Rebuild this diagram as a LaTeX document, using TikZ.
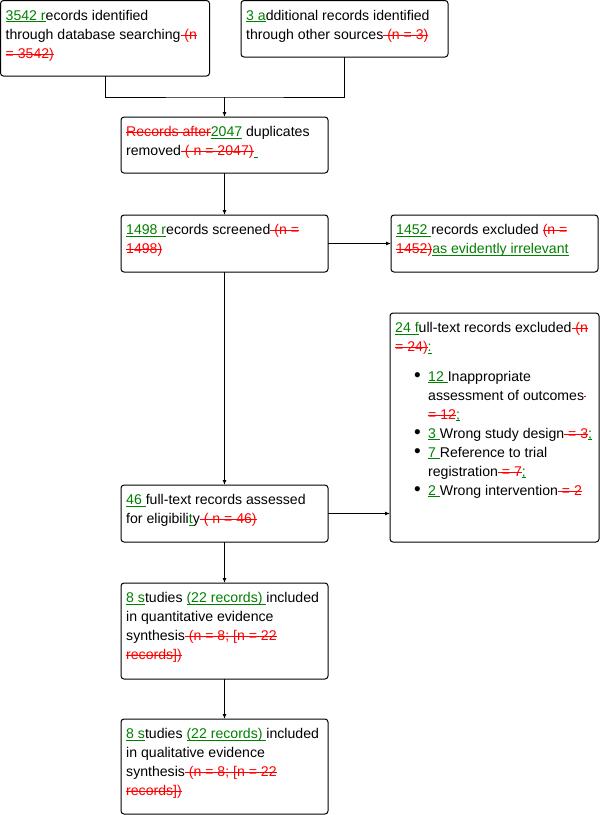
\documentclass[tikz,border=0pt]{standalone}
\usepackage{fontspec}
\setmainfont{Liberation Sans}
\usetikzlibrary{arrows.meta,positioning}
\definecolor{insgreen}{RGB}{0,128,0}
\definecolor{delred}{RGB}{255,0,0}
\newsavebox{\markbox}
% tracked changes: green underline for inserted text, red strike for deleted text
\newcommand{\instxt}[1]{{\color{insgreen}\sbox{\markbox}{#1}\rlap{\rule[-1.6pt]{\wd\markbox}{0.9pt}}\usebox{\markbox}}}
\newcommand{\deltxt}[1]{{\color{delred}\sbox{\markbox}{#1}\rlap{\rule[3.7pt]{\wd\markbox}{0.9pt}}\usebox{\markbox}}}
\newcommand{\bulletitem}{\hspace*{19pt}\makebox[14pt][l]{\fontsize{19}{19}\selectfont\textbullet}}
\newcommand{\itemcont}{\hspace*{33pt}}

\begin{document}
\begin{tikzpicture}[x=1pt, y=-1pt, font=\fontsize{14.1}{19}\selectfont, >={Latex[length=5pt, width=4pt]},
  stage/.style={draw=black, line width=1pt, rounded corners=3pt, anchor=north west, inner sep=0pt, outer sep=0pt},
  txt/.style={align=left, inner sep=0pt, execute at begin node=\strut},
  link/.style={line width=1pt, draw=black},
  flow/.style={->, line width=1pt, draw=black}]
\useasboundingbox (0,0) rectangle (602,815);
% ---- identification
\node[stage, minimum width=209pt, minimum height=75.5pt] (ident) at (0.5,0.5) {};
\node[stage, minimum width=207pt, minimum height=56.5pt] (other) at (241,0.5) {};
\node[txt, below right=9.5pt and 5pt of ident.north west] (ident-t) {\instxt{3542 r}ecords identified\\
  through database searching\deltxt{ (n}\\
  \deltxt{= 3542)}};
\node[txt, below right=9.5pt and 5pt of other.north west] (other-t) {\instxt{3 a}dditional records identified\\
  through other sources\deltxt{ (n = 3)}};
\coordinate (merge) at (224.5,97);
\draw[link] (ident.south) |- (merge) -| (other.south);
% ---- screening
\node[stage, minimum width=207pt, minimum height=56pt] (dup) at (121,117) {};
\node[txt, below right=9.5pt and 5pt of dup.north west] (dup-t) {\deltxt{Records after}\instxt{2047} duplicates\\
  removed\deltxt{ ( n = 2047)}\instxt{\makebox[4pt]{}}};
\draw[flow] (merge) -- (dup.north);
\node[stage, minimum width=207pt, minimum height=57pt] (screen) at (121,215) {};
\node[txt, below right=9.5pt and 5pt of screen.north west] (screen-t) {\instxt{1498 r}ecords screened\deltxt{ (n =}\\
  \deltxt{1498)}};
\draw[flow] (dup.south) -- (screen.north);
\node[stage, minimum width=207pt, minimum height=57pt] (excl) at (391,215) {};
\node[txt, below right=9.5pt and 5pt of excl.north west] (excl-t) {\instxt{1452 }records excluded \deltxt{(n =}\\
  \deltxt{1452)}\instxt{as evidently irrelevant}};
\draw[flow] (screen.east) -- (excl.west);
% ---- eligibility
\node[stage, minimum width=207pt, minimum height=57pt] (elig) at (121,485) {};
\node[txt, below right=9.5pt and 5pt of elig.north west] (elig-t) {\instxt{46 }full-text records assessed\\
  for eligibili\instxt{t}y\deltxt{ ( n = 46)}};
\draw[flow] (screen.south) -- (elig.north);
\node[stage, minimum width=209pt, minimum height=229pt] (ftexcl) at (390,313) {};
\node[txt, below right=9.5pt and 5pt of ftexcl.north west] (ftexcl-t) {\instxt{24 f}ull-text records excluded\deltxt{ (n}\\
  \deltxt{= 24)}\instxt{:}\\[10.7pt]
  \bulletitem\instxt{12 }Inappropriate\\
  \itemcont assessment of outcomes\deltxt{\makebox[2pt]{}}\\
  \itemcont\deltxt{= 12}\instxt{;}\\
  \bulletitem\instxt{3 }Wrong study design\deltxt{ = 3}\instxt{;}\\
  \bulletitem\instxt{7 }Reference to trial\\
  \itemcont registration\deltxt{ = 7}\instxt{;}\\
  \bulletitem\instxt{2 }Wrong intervention\deltxt{ = 2}};
\draw[flow] (elig.east) -- (elig.east -| ftexcl.west);
% ---- included
\node[stage, minimum width=207pt, minimum height=96pt] (quant) at (121,583) {};
\node[txt, below right=9.5pt and 5pt of quant.north west] (quant-t) {\instxt{8 s}tudies \instxt{(22 records) }included\\
  in quantitative evidence\\
  synthesis\deltxt{ (n = 8; [n = 22}\\
  \deltxt{records])}};
\draw[flow] (elig.south) -- (quant.north);
\node[stage, minimum width=207pt, minimum height=95pt] (qual) at (121,719) {};
\node[txt, below right=9.5pt and 5pt of qual.north west] (qual-t) {\instxt{8 s}tudies \instxt{(22 records) }included\\
  in qualitative evidence\\
  synthesis\deltxt{ (n = 8; [n = 22}\\
  \deltxt{records])}};
\draw[flow] (quant.south) -- (qual.north);
\end{tikzpicture}
\end{document}
